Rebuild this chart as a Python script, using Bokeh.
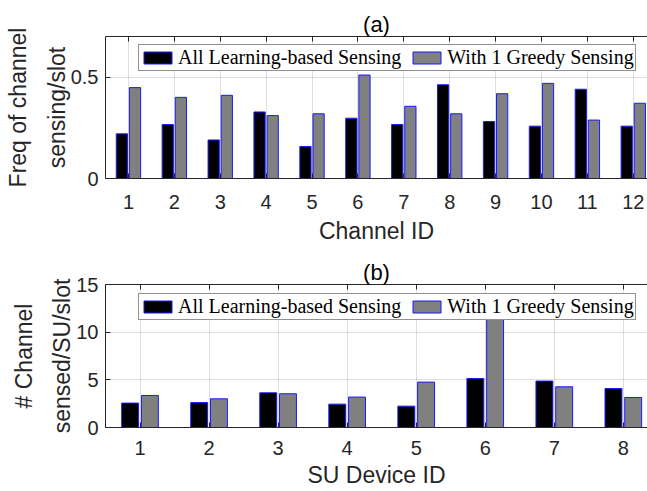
from bokeh.plotting import figure
from bokeh.models import ColumnDataSource, LinearAxis, FixedTicker, Range1d
from bokeh.layouts import column
from bokeh.transform import dodge
from bokeh.embed import file_html
from bokeh.resources import INLINE

# ---- data ----
channel_ids = [1, 2, 3, 4, 5, 6, 7, 8, 9, 10, 11, 12]
learning_freq = [0.220, 0.266, 0.190, 0.328, 0.158, 0.297, 0.266, 0.462, 0.281, 0.258, 0.440, 0.258]
greedy_freq = [0.448, 0.400, 0.410, 0.310, 0.319, 0.510, 0.356, 0.319, 0.418, 0.469, 0.288, 0.371]

device_ids = [1, 2, 3, 4, 5, 6, 7, 8]
learning_count = [2.56, 2.62, 3.64, 2.45, 2.24, 5.14, 4.87, 4.09]
greedy_count = [3.36, 3.01, 3.54, 3.19, 4.76, 12.0, 4.27, 3.15]

freq_ticks = [0, 0.5]
count_ticks = [0, 5, 10, 15]

series_names = ["All Learning-based Sensing", "With 1 Greedy Sensing"]

AX = "#262626"
SANS = "Liberation Sans"
SERIF = "Liberation Serif"


def style_axis(ax):
    ax.axis_line_color = AX
    ax.major_tick_line_color = AX
    ax.minor_tick_line_color = AX
    ax.major_tick_in = 5
    ax.major_tick_out = 0
    ax.minor_tick_in = 5
    ax.minor_tick_out = 0
    ax.major_label_text_font = SANS
    ax.major_label_text_font_size = "20px"
    ax.major_label_text_color = AX
    ax.axis_label_text_font = SANS
    ax.axis_label_text_font_size = "23px"
    ax.axis_label_text_font_style = "normal"
    ax.axis_label_text_color = AX


def make_panel(title, xs, a, b, xticks, yticks, xend, yend, xlabel, ylabel1, ylabel2,
               height, border_top, border_bottom, legend_y, tick_standoff, label_standoff):
    src = ColumnDataSource(dict(x=xs, a=a, b=b))
    p = figure(width=647, height=height, output_backend="svg", toolbar_location=None,
               x_range=Range1d(0.5, xend), y_range=Range1d(0, yend),
               min_border_left=105, min_border_right=0, min_border_top=border_top,
               min_border_bottom=border_bottom, x_axis_location=None, y_axis_location=None)
    p.outline_line_color = None
    p.background_fill_color = "white"

    p.vbar(x=dodge("x", -0.143, range=p.x_range), top="a", width=0.245, source=src,
           fill_color="black", line_color="#1a1aff", line_width=1,
           legend_label=series_names[0])
    p.vbar(x=dodge("x", 0.143, range=p.x_range), top="b", width=0.245, source=src,
           fill_color="#808080", line_color="#1a1aff", line_width=1,
           legend_label=series_names[1])

    # bottom axis
    xb = LinearAxis(ticker=FixedTicker(ticks=xticks), axis_label=xlabel)
    style_axis(xb)
    xb.major_label_standoff = tick_standoff
    xb.axis_label_standoff = label_standoff
    p.add_layout(xb, "below")

    # left axis with ticks + second line of label
    yl = LinearAxis(ticker=FixedTicker(ticks=yticks), axis_label=ylabel2)
    style_axis(yl)
    yl.major_label_standoff = 7
    yl.axis_label_standoff = -2
    p.add_layout(yl, "left")

    # outer left axis carrying first line of label only
    yl2 = LinearAxis(ticker=FixedTicker(ticks=[]), axis_label=ylabel1)
    style_axis(yl2)
    yl2.axis_line_color = None
    yl2.major_tick_line_color = None
    yl2.minor_tick_line_color = None
    yl2.axis_label_standoff = 10
    p.add_layout(yl2, "left")

    # top box edge with inward ticks (no labels)
    xt = LinearAxis(ticker=FixedTicker(ticks=[], minor_ticks=xticks))
    style_axis(xt)
    p.add_layout(xt, "above")

    p.xgrid.ticker = FixedTicker(ticks=xticks)
    p.ygrid.ticker = FixedTicker(ticks=yticks)
    for g in (p.xgrid, p.ygrid):
        g.grid_line_color = "#262626"
        g.grid_line_alpha = 0.15

    p.title.text = title
    p.title.align = "center"
    p.title.text_font = SANS
    p.title.text_font_size = "22px"
    p.title.text_font_style = "normal"
    p.title.text_color = "black"
    p.title.standoff = 0

    lg = p.legend[0]
    lg.orientation = "horizontal"
    lg.location = (33, legend_y)
    lg.label_text_font = SERIF
    lg.label_text_font_size = "20px"
    lg.label_text_color = "black"
    lg.glyph_width = 35
    lg.glyph_height = 15
    lg.label_standoff = 3
    lg.label_height = 17
    lg.spacing = 8
    lg.padding = 1
    lg.margin = 0
    lg.border_line_color = AX
    lg.border_line_width = 1
    lg.background_fill_alpha = 1
    return p


pa = make_panel("(a)", channel_ids, learning_freq, greedy_freq, channel_ids, freq_ticks,
                12.31, 0.7, "Channel ID", "Freq of channel", "sensing/slot",
                250, 36, 72, 107, 16, 6)
pb = make_panel("(b)", device_ids, learning_count, greedy_count, device_ids, count_ticks,
                8.35, 15, "SU Device ID", "# Channel", "sensed/SU/slot",
                241, 34, 64, 107, 13, 4)

layout = column(pa, pb, spacing=0)
open("out.html", "w").write(file_html(layout, INLINE))
